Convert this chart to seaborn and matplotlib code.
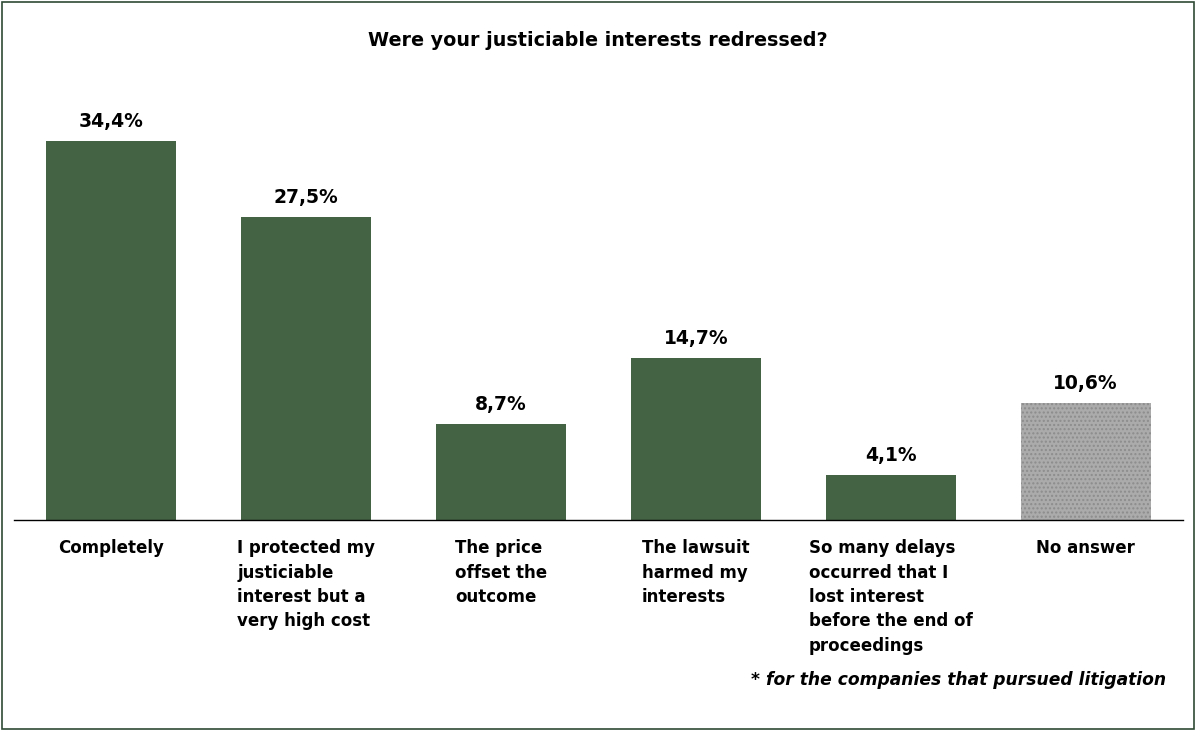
import matplotlib.pyplot as plt
import matplotlib.patches as patches
import seaborn as sns

categories = [
    "Completely",
    "I protected my\njusticiable\ninterest but a\nvery high cost",
    "The price\noffset the\noutcome",
    "The lawsuit\nharmed my\ninterests",
    "So many delays\noccurred that I\nlost interest\nbefore the end of\nproceedings",
    "No answer",
]
values = [34.4, 27.5, 8.7, 14.7, 4.1, 10.6]
bar_colors = ["#446244", "#446244", "#446244", "#446244", "#446244", "#ababab"]

sns.set_style("white")
plt.rcParams["font.family"] = ["DejaVu Sans"]
plt.rcParams["text.color"] = "black"
plt.rcParams["xtick.color"] = "black"

fig = plt.figure(figsize=(11.96, 7.31), dpi=100)
ax = fig.add_axes([14 / 1196, 211 / 731, 1169 / 1196, 441 / 731])

sns.barplot(x=categories, y=values, hue=categories, palette=bar_colors,
            legend=False, width=0.667, ax=ax, saturation=1)

for p in ax.patches:
    p.set_edgecolor("none")
ax.patches[-1].set_hatch("....")
ax.patches[-1].set_edgecolor("#8c8c8c")
ax.patches[-1].set_linewidth(0)

for c in ax.containers:
    ax.bar_label(c, labels=[f"{v:.1f}%".replace(".", ",") for v in c.datavalues],
                 padding=7, fontsize=13.5, fontweight="bold", color="black")

ax.set_xlim(-0.5, len(categories) - 0.5)
ax.set_ylim(0, 40)
ax.set_yticks([])
ax.set_xticks(range(len(categories)))
ax.set_xticklabels(categories, fontsize=12, fontweight="bold",
                   multialignment="left", linespacing=1.45)
ax.tick_params(axis="x", which="major", length=0, pad=14, labelcolor="black")
ax.set_xticks([i - 0.5 for i in range(len(categories) + 1)], minor=True)
ax.tick_params(axis="x", which="minor", length=7, width=1, direction="out", color="black")
ax.set_xlabel("")
ax.set_ylabel("")
for s in ["top", "left", "right"]:
    ax.spines[s].set_visible(False)
ax.spines["bottom"].set_color("black")
ax.spines["bottom"].set_linewidth(1)
ax.patch.set_alpha(0)

fig.text(0.5, 1 - 40 / 731, "Were your justiciable interests redressed?",
         ha="center", va="center", fontsize=13.8, fontweight="bold")
fig.text(1166 / 1196, 1 - 680 / 731, "* for the companies that pursued litigation",
         ha="right", va="center", fontsize=12.3, fontweight="bold", style="italic")

fig.patches.append(patches.Rectangle((2 / 1196, 2 / 731), 1192 / 1196, 727 / 731,
                                     transform=fig.transFigure, fill=False,
                                     edgecolor="#2f4a35", linewidth=1.2))

fig.savefig("out.png", dpi=100)
